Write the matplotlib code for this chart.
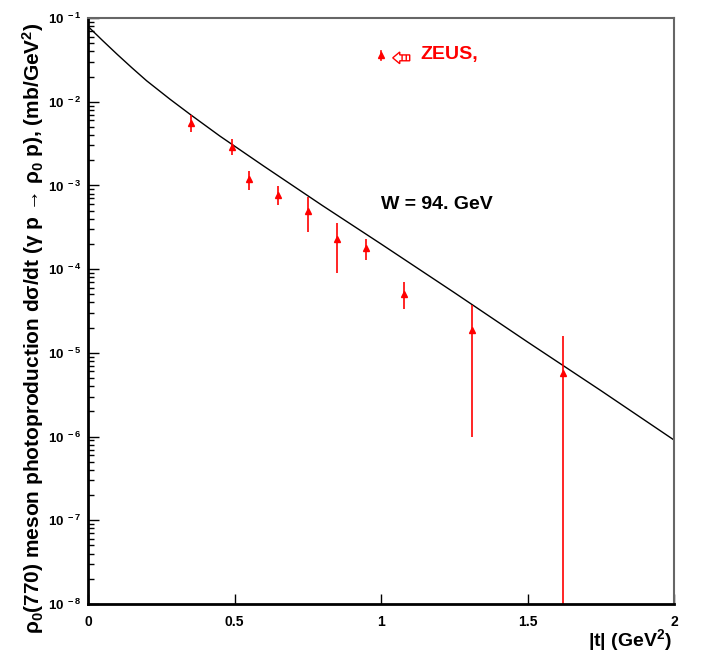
import matplotlib
matplotlib.use("Agg")
import matplotlib.pyplot as plt
from matplotlib.patches import Polygon, Rectangle
from matplotlib.ticker import FixedLocator, FixedFormatter, LogLocator, NullFormatter

plt.rcParams["font.family"] = ["Liberation Sans", "DejaVu Sans"]
plt.rcParams["font.weight"] = "bold"
plt.rcParams["mathtext.fontset"] = "custom"
plt.rcParams["mathtext.rm"] = "Liberation Sans:bold"
plt.rcParams["mathtext.bf"] = "Liberation Sans:bold"
plt.rcParams["mathtext.it"] = "Liberation Sans:bold"

# ZEUS data points
t_data = [0.35, 0.49, 0.55, 0.65, 0.75, 0.85, 0.95, 1.08, 1.31, 1.62]
dsdt = [5.5e-3, 2.9e-3, 1.2e-3, 7.6e-4, 5.0e-4, 2.3e-4, 1.77e-4, 5.1e-5, 1.85e-5, 5.8e-6]
dsdt_hi = [6.9e-3, 3.6e-3, 1.5e-3, 9.8e-4, 7.2e-4, 3.6e-4, 2.3e-4, 7.1e-5, 3.7e-5, 1.57e-5]
dsdt_lo = [4.3e-3, 2.3e-3, 8.7e-4, 5.9e-4, 2.8e-4, 9.1e-5, 1.3e-4, 3.3e-5, 9.8e-7, 1e-9]

# model curve, W = 94 GeV
t_curve = [0, 0.05, 0.1, 0.15, 0.2, 0.28, 0.35, 0.45, 0.6, 0.8, 1.0, 1.25, 1.5, 1.75, 2.0]
dsdt_curve = [7.94e-2, 5.37e-2, 3.67e-2, 2.54e-2, 1.78e-2, 1.07e-2, 7.0e-3, 3.89e-3, 1.7e-3,
              5.75e-4, 2.0e-4, 5.25e-5, 1.35e-5, 3.55e-6, 9.1e-7]

x_ticks = [0, 0.5, 1, 1.5, 2]
x_ticklabels = ["0", "0.5", "1", "1.5", "2"]
y_ticks = [1e-8, 1e-7, 1e-6, 1e-5, 1e-4, 1e-3, 1e-2, 1e-1]
y_ticklabels = [r"$10^{\ -%d}$" % k for k in [8, 7, 6, 5, 4, 3, 2, 1]]

fig = plt.figure(figsize=(7.01, 6.58), dpi=100)
ax = fig.add_axes([88 / 701, 1 - 604 / 658, 586 / 701, 586 / 658])

ax.plot(t_curve, dsdt_curve, color="black", lw=1.0)
ax.vlines(t_data, dsdt_lo, dsdt_hi, color="red", lw=1.2)
ax.plot(t_data, dsdt, "^", color="red", ms=5, mec="red")

ax.set_yscale("log")
ax.set_xlim(0, 2)
ax.set_ylim(1e-8, 1e-1)

ax.xaxis.set_major_locator(FixedLocator(x_ticks))
ax.xaxis.set_major_formatter(FixedFormatter(x_ticklabels))
ax.yaxis.set_major_locator(FixedLocator(y_ticks))
ax.yaxis.set_major_formatter(FixedFormatter(y_ticklabels))
ax.yaxis.set_minor_locator(LogLocator(base=10, subs=range(2, 10)))
ax.yaxis.set_minor_formatter(NullFormatter())
ax.tick_params(axis="x", direction="in", length=7, width=1, labelsize=10, pad=8)
ax.tick_params(axis="x", which="minor", length=0)
ax.tick_params(axis="y", which="major", direction="in", length=8, width=1, labelsize=9.5, pad=5)
ax.tick_params(axis="y", which="minor", direction="in", length=4, width=1)

for s in ["left", "bottom"]:
    ax.spines[s].set_linewidth(2)
    ax.spines[s].set_color("black")
for s in ["top", "right"]:
    ax.spines[s].set_linewidth(1.5)
    ax.spines[s].set_color("#666666")

fig.text(33 / 701, 1 - 328 / 658,
         "ρ$_0$(770) meson photoproduction dσ/dt (γ p → ρ$_0$ p), (mb/GeV$^2$)",
         rotation=90, ha="center", va="center", fontsize=15, fontweight="bold")
fig.text(672 / 701, 1 - 640 / 658, r"|t| (GeV$^2$)", ha="right", va="center",
         fontsize=14, fontweight="bold")

ax.text(0.5, 0.681, "W = 94. GeV", transform=ax.transAxes, ha="left", va="center",
        fontsize=14, fontweight="bold")

# legend entry
ax.plot([0.5, 0.5], [0.928, 0.943], color="red", lw=1.2, transform=ax.transAxes)
ax.plot([0.5], [0.937], "^", color="red", ms=5, transform=ax.transAxes)
arrow = Polygon([(0.520, 0.932), (0.532, 0.942), (0.532, 0.937), (0.549, 0.937),
                 (0.549, 0.927), (0.532, 0.927), (0.532, 0.922)],
                closed=True, fill=False, ec="red", lw=1, transform=ax.transAxes)
ax.add_patch(arrow)
ax.add_patch(Rectangle((0.532, 0.927), 0.017, 0.010, fill=False, ec="red", hatch="||||",
                       lw=0, transform=ax.transAxes))
ax.text(0.567, 0.937, "ZEUS,", transform=ax.transAxes, ha="left", va="center",
        fontsize=14, fontweight="bold", color="red")

fig.savefig("out.png", dpi=100)
